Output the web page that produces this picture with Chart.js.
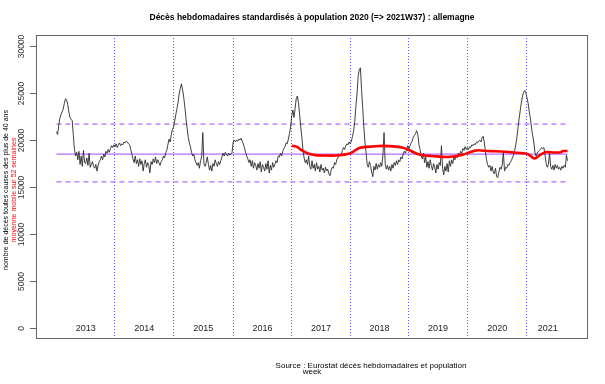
<!DOCTYPE html>
<html>
<head>
<meta charset="utf-8">
<script src="https://cdn.jsdelivr.net/npm/chart.js@4.4.1/dist/chart.umd.min.js"></script>
<style>
  html, body { margin: 0; padding: 0; background: #fff; }
  #wrap { width: 605px; height: 384px; }
</style>
</head>
<body>
<div id="wrap"><canvas id="chart" width="605" height="384"></canvas></div>
<script>
// weekly deaths, 2013W01 .. 2021W37
const years = ['2013', '2014', '2015', '2016', '2017', '2018', '2019', '2020', '2021'];
const weeksPerYear = [52, 52, 53, 52, 52, 52, 52, 53, 37];

const deaths = [
  // 2013
  20900, 20600, 21500, 22300, 22700, 23000, 23300, 23900, 24400, 24300,
  23800, 23000, 22400, 22200, 22100, 20500, 19000, 18300, 18700, 17900,
  18800, 17400, 18300, 17200, 18900, 17600, 17500, 18100, 17300, 18600,
  17100, 17400, 17700, 17200, 17000, 17400, 16700, 17300, 17700, 17900,
  18300, 17900, 18500, 18200, 18800, 18600, 19000, 18700, 19100, 19400,
  19200, 19500,
  // 2014
  19300, 19600, 19200, 19500, 19700, 19400, 19600, 19500, 19800, 19700,
  19900, 19800, 19600, 19500, 19000, 18500, 18000, 17600, 18300, 17500,
  17900, 17200, 18000, 17400, 17800, 16700, 17500, 17900, 17100, 17600,
  17300, 16500, 17700, 17400, 18000, 17600, 18200, 17500, 17900, 17600,
  17300, 17700, 17900, 18300, 18100, 18600, 18900, 19500, 20100, 19800,
  20600, 21100,
  // 2015
  21400, 22000, 22700, 23300, 24000, 24900, 25500, 26000, 25400, 24600,
  23600, 22400, 21300, 20400, 19700, 19300, 18700, 18300, 18500, 17900,
  17600, 17300, 17600, 17000, 17800, 18200, 20800, 17500, 17200, 17600,
  18200, 17400, 16800, 17300, 16700, 17500, 17200, 17900, 17500, 17200,
  17700, 17400, 17800, 18200, 18600, 18300, 18700, 18500, 18300, 18600,
  18400, 18500, 18700,
  // 2016
  19800, 20000, 19800, 20000, 19900, 20100, 20000, 20200, 19900, 19600,
  19200, 18700, 18300, 18000, 17600, 17900, 17200, 17800, 17000, 17600,
  17300, 16800, 17500, 17000, 17700, 16600, 17400, 17100, 16700, 17500,
  16900, 17800, 16500, 17300, 16800, 17600, 17100, 17400, 17800, 17600,
  18300, 18200, 18600, 18300, 18800, 19100, 19300, 19700, 19600, 20100,
  20700, 21400,
  // 2017
  22600, 23200, 22400, 23400, 24400, 24700, 24000, 22700, 21400, 20300,
  18900, 18100, 17600, 17900, 17400, 18300, 17200, 16900, 17800, 17000,
  17400, 16700, 17600, 16900, 17200, 16600, 17400, 16800, 17000, 16500,
  17100, 16700, 16900, 16400, 16200, 16800, 17100, 17000, 17600, 17400,
  17900, 18100, 18300, 18500, 18400, 18900, 19200, 19000, 19400, 19600,
  19500, 19800,
  // 2018
  19600, 19900, 20400, 21000, 22000, 23600, 25000, 26800, 27500, 27700,
  25400, 23500, 21500, 19800, 18700, 17400, 17100, 17700, 17300, 16600,
  16100, 17200, 16800, 17500, 16900, 17400, 17100, 17600, 17200, 18400,
  20800, 17500, 16900, 17300, 16800, 17200, 16700, 17400, 17000, 17600,
  17300, 17800, 17400, 17900, 17700, 18200, 18000, 18500, 18800, 18600,
  19000, 19400,
  // 2019
  19000, 19400, 19700, 19900, 20300, 20500, 20700, 21000, 20600, 19500,
  19000, 18300, 18000, 18600, 17600, 18200, 17100, 17700, 17000, 17900,
  17300, 16800, 17500, 17100, 16500, 17400, 16900, 17600, 17300, 19400,
  17000, 16300, 17200, 16700, 17500, 16600, 17800, 17200, 17900, 17500,
  18200, 17900, 18400, 18100, 18600, 18300, 18800, 18600, 19100, 18900,
  19300, 19000,
  // 2020
  19200, 19000, 19300, 19200, 19500, 19400, 19600, 19500, 19800, 19700,
  19900, 20000, 19800, 20200, 20400, 19800, 18800, 17900, 17400, 17100,
  17300, 16700, 17200, 16600, 16400, 17000, 16100, 16000, 16600, 17100,
  16900, 17400, 18700, 16700, 17100, 17000, 17400, 17300, 17600, 17800,
  18100, 18400, 18900, 19500, 20300, 21300, 22300, 23200, 24000, 24700,
  25100, 25300, 25000,
  // 2021 (=> W37)
  24500, 23900, 23000, 22300, 21300, 20500, 19800, 18700, 18300, 18600,
  18800, 18900, 19000, 19200, 19100, 19200, 18400, 17500, 17100, 17400,
  18600, 17200, 16900, 17300, 16800, 17400, 17000, 17300, 16900, 17100,
  16800, 17200, 17000, 17300, 17100, 18400, 17800
];

// red curve (52-week moving average), read at these week indexes
const maWeeks = [209, 214, 218, 224, 230, 239, 248, 256, 261, 264, 268, 273, 281, 290, 299,
  307, 313, 319, 325, 334, 346, 355, 361, 366, 371, 375, 383, 395, 406, 415, 419, 424, 426,
  430, 435, 442, 448, 450, 454];
const maValues = [19400, 19250, 18900, 18550, 18400, 18350, 18350, 18450, 18600, 18800, 19100,
  19250, 19320, 19380, 19330, 19200, 18950, 18600, 18380, 18300, 18200, 18300, 18450, 18650,
  18850, 18920, 18830, 18780, 18680, 18600, 18480, 18050, 18100, 18450, 18730, 18680, 18700,
  18830, 18830];

const meanLevel = 18500;
const bandLow = 15550;
const bandHigh = 21700;
const yTicks = [0, 5000, 10000, 15000, 20000, 25000, 30000];

const yearStarts = [];
weeksPerYear.reduce((acc, n) => { yearStarts.push(acc); return acc + n; }, 0);
const lastWeek = deaths.length - 1;
const xPad = lastWeek * 0.04;

const FONT = "'Liberation Sans', Arial, sans-serif";

const flat = (v) => [{ x: 0, y: v }, { x: lastWeek, y: v }];

const rPlot = {
  id: 'rPlot',
  beforeDatasetsDraw(chart) {
    const { ctx, chartArea: a, scales: { x } } = chart;
    ctx.save();
    ctx.strokeStyle = 'rgba(40,40,255,0.75)';
    ctx.lineWidth = 1;
    ctx.setLineDash([1, 2]);
    yearStarts.slice(1).forEach(w => {
      const px = Math.round(x.getPixelForValue(w - 0.5)) + 0.5;
      ctx.beginPath();
      ctx.moveTo(px, a.top);
      ctx.lineTo(px, a.bottom);
      ctx.stroke();
    });
    ctx.restore();
  },
  afterDraw(chart) {
    const { ctx, chartArea: a, scales: { x, y } } = chart;
    ctx.save();

    // box
    ctx.strokeStyle = '#666';
    ctx.lineWidth = 1;
    ctx.strokeRect(a.left + 0.5, a.top + 0.5, a.right - a.left - 1, a.bottom - a.top - 1);

    // y axis ticks + rotated labels
    ctx.fillStyle = '#333';
    ctx.font = '8.5px ' + FONT;
    ctx.textAlign = 'center';
    ctx.textBaseline = 'middle';
    yTicks.forEach(t => {
      const py = Math.round(y.getPixelForValue(t)) + 0.5;
      ctx.beginPath();
      ctx.moveTo(a.left, py);
      ctx.lineTo(a.left - 6, py);
      ctx.stroke();
      ctx.save();
      ctx.translate(22, py);
      ctx.rotate(-Math.PI / 2);
      ctx.fillText(String(t), 0, 0);
      ctx.restore();
    });

    // year labels
    ctx.fillStyle = '#222';
    ctx.font = '9px ' + FONT;
    years.forEach((yr, i) => {
      const mid = yearStarts[i] + weeksPerYear[i] / 2;
      ctx.fillText(yr, x.getPixelForValue(mid), y.getPixelForValue(0) + 1);
    });

    // title
    ctx.fillStyle = '#000';
    ctx.font = 'bold 8.5px ' + FONT;
    ctx.fillText('Décès hebdomadaires standardisés à population 2020 (=> 2021W37) : allemagne',
      (a.left + a.right) / 2, 18);

    // y axis titles
    const midY = (a.top + a.bottom) / 2;
    ctx.font = '7px ' + FONT;
    ctx.save();
    ctx.translate(6, midY + 3);
    ctx.rotate(-Math.PI / 2);
    ctx.fillStyle = '#000';
    ctx.fillText('nombre de décès toutes causes des plus de 40 ans', 0, 0);
    ctx.fillStyle = '#ff0000';
    ctx.fillText('moyenne mobile sur 52 semaines', 0, 8);
    ctx.restore();

    // x axis title and source
    ctx.fillStyle = '#000';
    ctx.font = '8px ' + FONT;
    ctx.fillText('week', (a.left + a.right) / 2, 372);
    ctx.fillText('Source : Eurostat décès hebdomadaires et population', 371, 366);

    ctx.restore();
  }
};

new Chart(document.getElementById('chart'), {
  type: 'line',
  data: {
    datasets: [
      {
        data: maWeeks.map((w, i) => ({ x: w, y: maValues[i] })),
        borderColor: '#ff0000',
        borderWidth: 2.6,
        pointRadius: 0,
        tension: 0.3
      },
      {
        data: deaths.map((v, i) => ({ x: i, y: v })),
        borderColor: '#2a2a2a',
        borderWidth: 0.9,
        pointRadius: 0,
        tension: 0
      },
      {
        data: flat(meanLevel),
        borderColor: '#b56cff',
        borderWidth: 1.4,
        pointRadius: 0
      },
      {
        data: flat(bandHigh),
        borderColor: '#b56cff',
        borderWidth: 1.3,
        borderDash: [5, 4],
        pointRadius: 0
      },
      {
        data: flat(bandLow),
        borderColor: '#b56cff',
        borderWidth: 1.3,
        borderDash: [5, 4],
        pointRadius: 0
      }
    ]
  },
  options: {
    responsive: false,
    animation: false,
    devicePixelRatio: 1,
    layout: { padding: { left: 36, right: 17, top: 35, bottom: 45 } },
    plugins: { legend: { display: false }, tooltip: { enabled: false } },
    scales: {
      x: { type: 'linear', min: -xPad, max: lastWeek + xPad, display: false },
      y: { type: 'linear', min: -1200, max: 31200, display: false }
    }
  },
  plugins: [rPlot]
});
</script>
</body>
</html>
